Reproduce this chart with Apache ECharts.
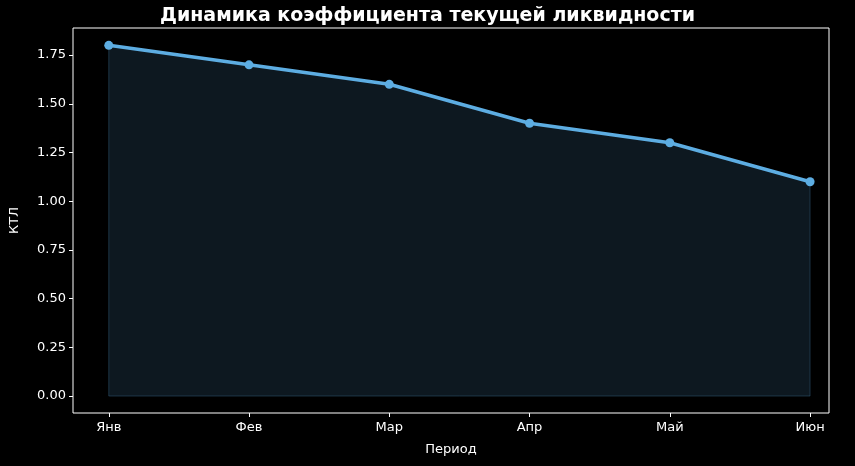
<!DOCTYPE html>
<html><head><meta charset="utf-8">
<script src="https://cdn.jsdelivr.net/npm/echarts@6/dist/echarts.min.js"></script>
<style>html,body{margin:0;background:#000}#c{width:855px;height:466px}</style></head>
<body><div id="c"></div>
<script>
const categories = ['Янв','Фев','Мар','Апр','Май','Июн'];
const ktl = [1.8,1.7,1.6,1.4,1.3,1.1];
const yTicks = [0,0.25,0.5,0.75,1.0,1.25,1.5,1.75];
const chart = echarts.init(document.getElementById('c'));
const font = 'DejaVu Sans';
chart.setOption({
  backgroundColor:'#000',
  animation:false,
  title:{text:'Динамика коэффициента текущей ликвидности',left:'center',top:2,
    textStyle:{color:'#fff',fontSize:19,fontWeight:'bold',fontFamily:font}},
  grid:{left:69,right:26,top:28,bottom:53,show:true,borderColor:'#fff',borderWidth:1},
  xAxis:{type:'value',min:-0.255,max:5.135,name:'Период',nameLocation:'middle',nameGap:30,
    nameTextStyle:{color:'#fff',fontSize:13,fontFamily:font},
    splitLine:{show:false},axisLine:{show:false,onZero:false},
    axisTick:{show:true,customValues:[0,1,2,3,4,5],lineStyle:{color:'#fff'},length:4},
    axisLabel:{customValues:[0,1,2,3,4,5],color:'#fff',fontSize:13,fontFamily:font,margin:8,
      formatter:v=>categories[Math.round(v)]}},
  yAxis:{type:'value',min:-0.087,max:1.889,name:'КТЛ',nameLocation:'middle',nameGap:52,
    nameTextStyle:{color:'#fff',fontSize:13,fontFamily:font},
    splitLine:{show:false},axisLine:{show:false,onZero:false},
    axisTick:{show:true,customValues:yTicks,lineStyle:{color:'#fff'},length:4},
    axisLabel:{customValues:yTicks,color:'#fff',fontSize:13,fontFamily:font,margin:7,
      formatter:v=>v.toFixed(2)}},
  series:[{type:'line',data:ktl.map((v,i)=>[i,v]),
    lineStyle:{color:'#5DADE2',width:3.5},itemStyle:{color:'#5DADE2'},
    symbol:'circle',symbolSize:9,
    areaStyle:{origin:0,color:'rgba(93,173,226,0.2)'}},
   {type:'line',data:[[0,0],[0,ktl[0]]],symbol:'none',lineStyle:{color:'rgba(93,173,226,0.25)',width:1},silent:true},
   {type:'line',data:[[5,0],[5,ktl[5]]],symbol:'none',lineStyle:{color:'rgba(93,173,226,0.25)',width:1},silent:true},
   {type:'line',data:[[0,0],[5,0]],symbol:'none',lineStyle:{color:'rgba(93,173,226,0.25)',width:1},silent:true}]
});
</script></body></html>
